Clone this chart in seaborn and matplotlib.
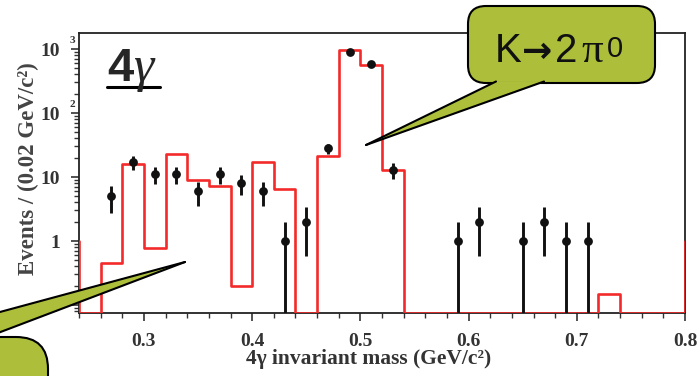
import numpy as np
import pandas as pd
import matplotlib
matplotlib.use("Agg")
import matplotlib.pyplot as plt
import seaborn as sns
from matplotlib.patches import FancyBboxPatch, Polygon
from matplotlib.lines import Line2D
from matplotlib.ticker import FixedLocator, MultipleLocator, LogLocator, NullFormatter

# ---------------- data ----------------
# MC histogram (red), bin edges 0.22 .. 0.82 step 0.02 (outer bins are under/overflow)
hist_edges = [0.22, 0.24, 0.26, 0.28, 0.30, 0.32, 0.34, 0.36, 0.38, 0.40, 0.42,
              0.44, 0.46, 0.48, 0.50, 0.52, 0.54, 0.56, 0.58, 0.60, 0.62, 0.64,
              0.66, 0.68, 0.70, 0.72, 0.74, 0.76, 0.78, 0.80, 0.82]
hist_counts = [1.0, 0.0, 0.45, 16.0, 0.78, 23.0, 9.0, 7.2, 0.2, 17.0, 6.5,
               0.0, 21.0, 960.0, 560.0, 13.0, 0.0, 0.0, 0.0, 0.0, 0.0, 0.0,
               0.0, 0.0, 0.0, 0.15, 0.0, 0.0, 0.0, 1.0]

# data points (black)
data_mass = [0.27, 0.29, 0.31, 0.33, 0.35, 0.37, 0.39, 0.41, 0.43, 0.45, 0.47,
             0.49, 0.51, 0.53, 0.59, 0.61, 0.65, 0.67, 0.69, 0.71]
data_events = [5, 17, 11, 11, 6, 11, 8, 6, 1, 2, 28,
               900, 590, 13, 1, 2, 1, 2, 1, 1]

x_major = [0.3, 0.4, 0.5, 0.6, 0.7, 0.8]
x_labels = ["0.3", "0.4", "0.5", "0.6", "0.7", "0.8"]
y_major = [0.1, 1, 10, 100, 1000]
y_bases = ["10", "1", "10", "10", "10"]
y_exps = ["-1", "", "", "2", "3"]

xlabel = "4γ invariant mass (GeV/c²)"
ylabel = "Events / (0.02 GeV/c²)"
panel_label_num = "4"
panel_label_greek = "γ"
callout_parts = ["K", "→", "2", "π"]
callout_sup = "0"

# ---------------- style ----------------
W, H = 698, 376
sns.set_theme(style="white")
plt.rcParams["font.family"] = ["Liberation Serif", "DejaVu Serif"]

fig = plt.figure(figsize=(W / 100, H / 100), dpi=100)
ax = fig.add_axes([79 / W, 1 - 313 / H, (685 - 79) / W, (313 - 33) / H])
ax.set_yscale("log")
ymin, ymax = 0.075, 1780
ax.set_xlim(0.24, 0.80)
ax.set_ylim(ymin, ymax)

red = "#f42a2a"
tick_col = "#333333"

# histogram as step line (zero bins drawn at the floor of the axis)
hx = list(hist_edges)
hy = [c if c > 0 else ymin for c in hist_counts] + [ymin]
hist_df = pd.DataFrame({"x": hx, "y": hy})
sns.lineplot(data=hist_df, x="x", y="y", ax=ax, color=red, lw=1.9,
             drawstyle="steps-post", estimator=None, sort=False, zorder=3)

# data points with sqrt(N) errors
ev = np.array(data_events, dtype=float)
err = np.sqrt(ev)
lo = np.minimum(err, ev - 1e-6)
ax.errorbar(data_mass, ev, yerr=[lo, err], fmt="none", ecolor="#111111",
            elinewidth=2.1, capsize=0, zorder=4)
pts = pd.DataFrame({"m": data_mass, "n": ev})
sns.scatterplot(data=pts, x="m", y="n", ax=ax, color="#111111", s=40,
                edgecolor="#111111", linewidth=0, zorder=5)

# axes decoration
for s in ax.spines.values():
    s.set_color("#222222")
    s.set_linewidth(1.3)
    s.set_zorder(2)
ax.set_xlabel("")
ax.set_ylabel("")
ax.xaxis.set_major_locator(FixedLocator(x_major))
ax.set_xticklabels(x_labels)
ax.xaxis.set_minor_locator(MultipleLocator(0.02))
ax.yaxis.set_major_locator(FixedLocator(y_major))
ax.set_yticklabels(y_bases)
ax.yaxis.set_minor_locator(LogLocator(base=10, subs=np.arange(2, 10)))
ax.yaxis.set_minor_formatter(NullFormatter())
ax.tick_params(axis="both", which="major", direction="out", length=6, width=1.2,
               color=tick_col, labelcolor=tick_col, bottom=True, left=True)
ax.tick_params(axis="both", which="minor", direction="out", length=3.5, width=1.0,
               color=tick_col, bottom=True, left=True)
ax.tick_params(axis="x", which="major", pad=8.5, labelsize=14)
ax.tick_params(axis="y", which="major", pad=7.5, labelsize=14)
for lab in ax.get_xticklabels() + ax.get_yticklabels():
    lab.set_fontweight("bold")

# superscripts of y tick labels
for v, e in zip(y_major, y_exps):
    if e:
        ax.annotate(e, xy=(0, v), xycoords=("axes fraction", "data"),
                    xytext=(-6.8, 3.2), textcoords="offset points",
                    ha="left", va="bottom", fontsize=8, fontweight="bold",
                    color=tick_col, annotation_clip=False)

fig.text(369 / W, 1 - 359 / H, xlabel, ha="center", va="center",
         fontsize=15.5, fontweight="bold", color=tick_col)
fig.text(28 / W, 1 - 169 / H, ylabel, ha="center", va="center", rotation=90,
         fontsize=16.5, fontweight="bold", color="#444444")

# panel label 4γ (underlined)
tr = fig.dpi_scale_trans
def P(x, y):
    return (x / 100, (H - y) / 100)

fig.text(*P(107, 81), panel_label_num, transform=tr, fontsize=34,
         fontweight="bold", family="Liberation Sans", ha="left", va="baseline")
fig.text(*P(133, 81), panel_label_greek, transform=tr, fontsize=37,
         style="italic", family="Liberation Serif", ha="left", va="baseline")
fig.add_artist(Line2D([107 / 100, 160 / 100], [(H - 87) / 100] * 2,
                      transform=tr, color="black", lw=2.2))

# callout bubbles
green = "#adbf3a"
def bubble(x0, y0, x1, y1, rad, tail, z=10):
    box = FancyBboxPatch(P(x0, y1), (x1 - x0) / 100, (y1 - y0) / 100,
                         boxstyle=f"round,pad=0,rounding_size={rad / 100}",
                         transform=tr, facecolor=green, edgecolor="black",
                         lw=1.5, zorder=z, clip_on=False)
    fig.add_artist(box)
    poly = Polygon([P(*p) for p in tail], closed=True, transform=tr,
                   facecolor=green, edgecolor="none", zorder=z + 0.1)
    fig.add_artist(poly)
    b1, b2, tip = tail
    for b in (b1, b2):
        fig.add_artist(Line2D([P(*b)[0], P(*tip)[0]], [P(*b)[1], P(*tip)[1]],
                              transform=tr, color="black", lw=1.5,
                              zorder=z + 0.2, solid_capstyle="round"))

bubble(468, 6, 655, 83, 18, [(496, 81.5), (544, 81.5), (366, 145)])
bubble(-160, 337, 48, 480, 32, [(-100, 339), (-10, 336), (185, 262)])

part_x = [495, 522, 555, 581]
part_font = [("Liberation Sans", 29, "normal"), ("DejaVu Sans", 26, "bold"),
             ("Liberation Sans", 29, "normal"), ("Liberation Serif", 31, "normal")]
for txt, px, (fam, fs, fw) in zip(callout_parts, part_x, part_font):
    fig.text(*P(px, 62), txt, transform=tr, fontsize=fs, family=fam,
             fontweight=fw, ha="left", va="baseline", zorder=12, color="#111111")
fig.text(*P(607, 57), callout_sup, transform=tr, fontsize=21,
         family="Liberation Sans", ha="left", va="baseline", zorder=12,
         color="#111111")

fig.savefig("out.png", dpi=100)
